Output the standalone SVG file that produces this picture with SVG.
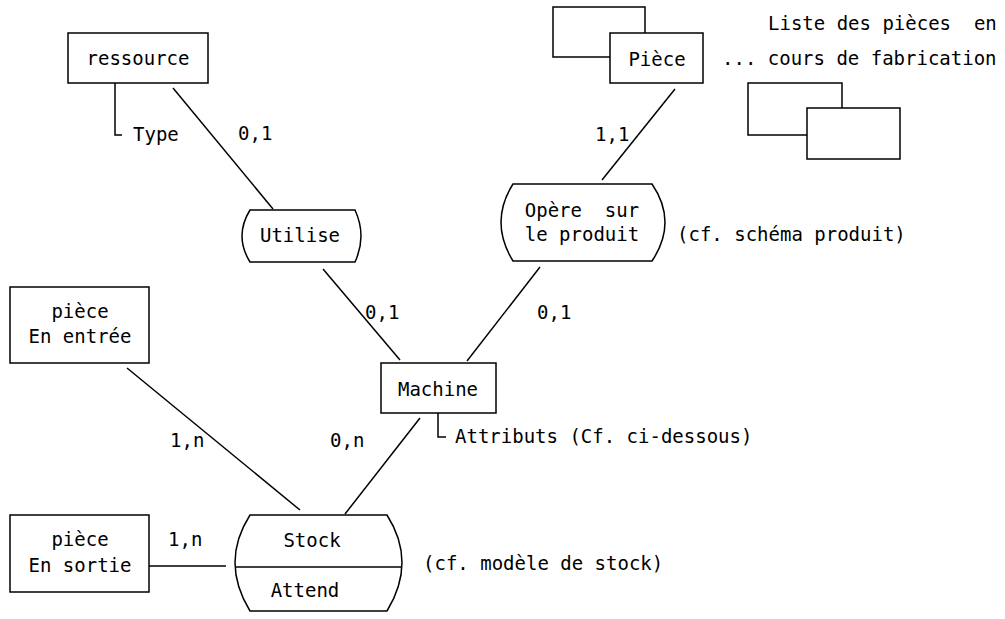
<svg xmlns="http://www.w3.org/2000/svg" width="1005" height="619" viewBox="0 0 1005 619">
<style>
.b{fill:#fff;stroke:#000;stroke-width:1.5}
.l{fill:none;stroke:#000;stroke-width:1.5}
text{font-family:"DejaVu Sans Mono","Liberation Mono",monospace;font-size:19px;fill:#000;white-space:pre}
.m{text-anchor:middle}
</style>
<rect width="1005" height="619" fill="#fff"/>
<g id="connectors">
<line class="l" x1="173" y1="88" x2="273" y2="209"/>
<line class="l" x1="323" y1="269" x2="400" y2="360"/>
<line class="l" x1="675" y1="89" x2="602" y2="180"/>
<line class="l" x1="540" y1="267" x2="467" y2="361"/>
<line class="l" x1="420" y1="418" x2="345" y2="514"/>
<line class="l" x1="127" y1="368" x2="300" y2="510"/>
<line class="l" x1="149" y1="566" x2="226" y2="566"/>
<text x="238" y="140">0,1</text>
<text x="365" y="319">0,1</text>
<text x="537" y="319">0,1</text>
<text x="595" y="141">1,1</text>
<text x="170" y="447">1,n</text>
<text x="330" y="447">0,n</text>
<text x="168" y="546">1,n</text>
</g>
<g id="ressource">
<rect class="b" x="68" y="33" width="140" height="50"/>
<text class="m" x="138" y="65">ressource</text>
<path class="l" d="M115,83 V135 H122"/>
<text x="133" y="141">Type</text>
</g>
<g id="utilise">
<path class="b" d="M250,210 H355 Q367,236 355,262 H250 Q234,236 250,210 Z"/>
<text class="m" x="300" y="242">Utilise</text>
</g>
<g id="piece">
<rect class="b" x="553" y="7" width="92" height="50"/>
<rect class="b" x="610" y="33" width="93" height="50"/>
<text class="m" x="657" y="66">Pièce</text>
</g>
<g id="liste">
<rect class="b" x="748" y="83" width="94" height="52"/>
<rect class="b" x="807" y="108" width="93" height="51"/>
<text x="768" y="30" xml:space="preserve">Liste des pièces  en</text>
<text x="722" y="65">... cours de fabrication</text>
</g>
<g id="opere">
<path class="b" d="M513,184 H652 Q678,222 652,261 H513 Q489,222 513,184 Z"/>
<text class="m" x="582" y="217" xml:space="preserve">Opère  sur</text>
<text class="m" x="582" y="241">le produit</text>
<text x="677" y="241">(cf. schéma produit)</text>
</g>
<g id="machine">
<rect class="b" x="381" y="363" width="115" height="50"/>
<text class="m" x="438" y="396">Machine</text>
<path class="l" d="M438,413 V437 H446"/>
<text x="455" y="443">Attributs (Cf. ci-dessous)</text>
</g>
<g id="piece-entree">
<rect class="b" x="10" y="287" width="139" height="76"/>
<text class="m" x="80" y="318">pièce</text>
<text class="m" x="80" y="343">En entrée</text>
</g>
<g id="piece-sortie">
<rect class="b" x="10" y="515" width="139" height="77"/>
<text class="m" x="80" y="546">pièce</text>
<text class="m" x="80" y="572">En sortie</text>
</g>
<g id="stock">
<path class="b" d="M250,515 H387 Q417,562 387,611 H250 Q220,562 250,515 Z"/>
<line class="l" x1="236" y1="567" x2="401" y2="567"/>
<text class="m" x="312" y="547">Stock</text>
<text class="m" x="305" y="597">Attend</text>
<text x="423" y="570">(cf. modèle de stock)</text>
</g>
</svg>
